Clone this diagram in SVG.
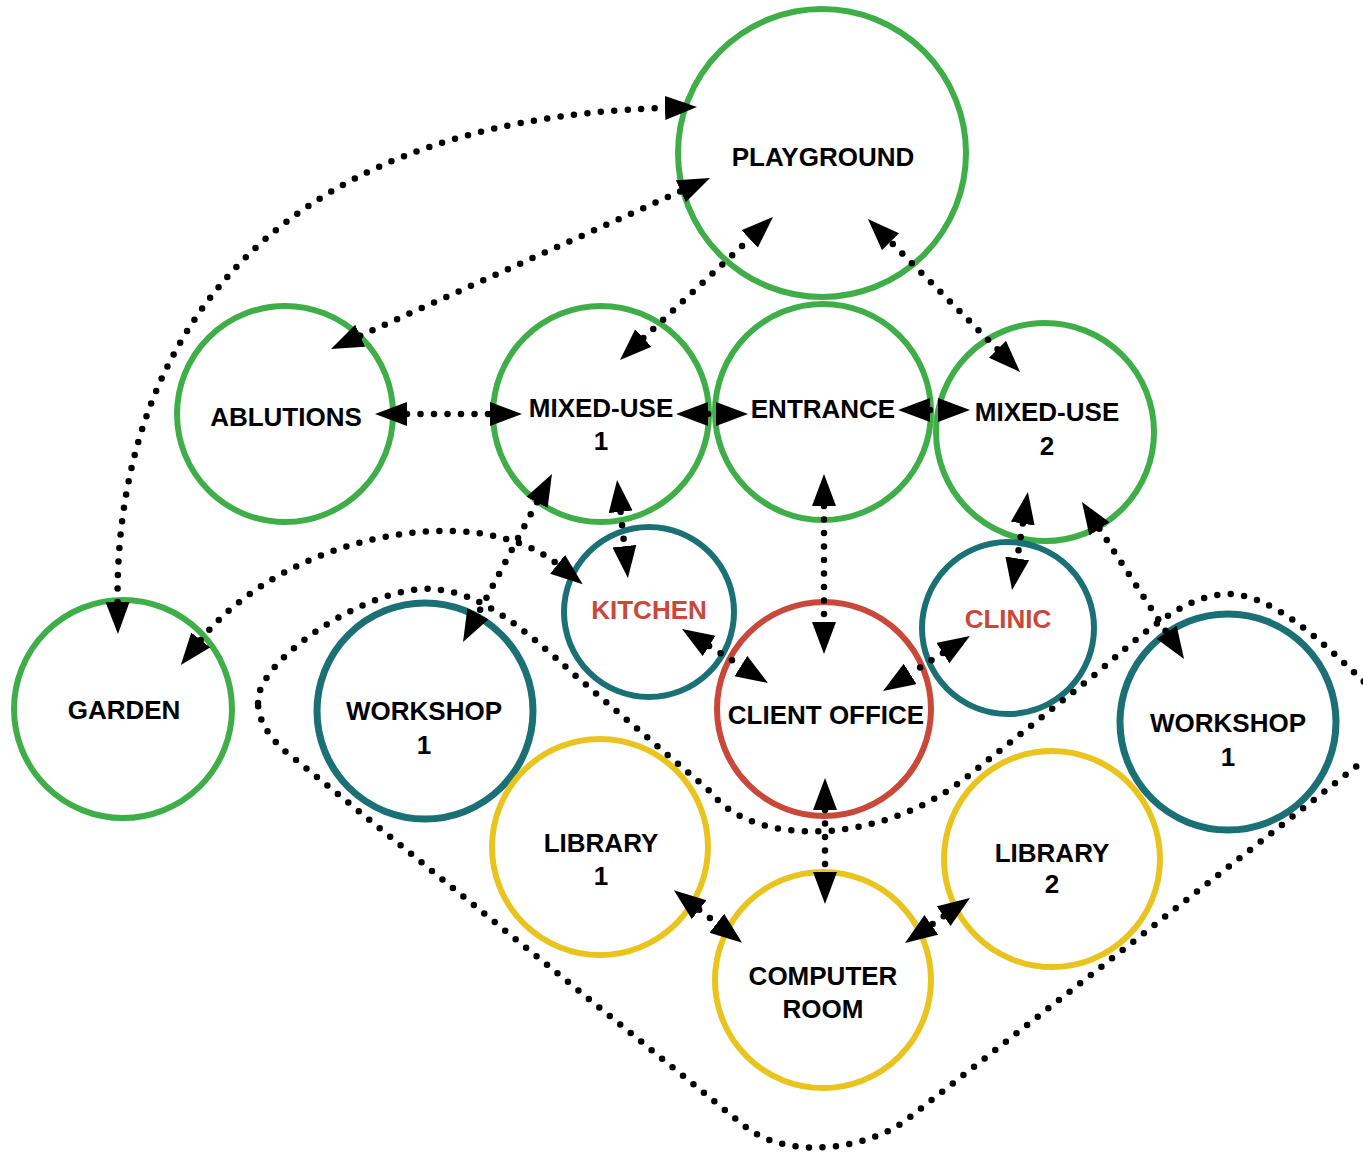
<svg xmlns="http://www.w3.org/2000/svg" width="1363" height="1155" viewBox="0 0 1363 1155">
<defs>
<marker id="ah" markerUnits="userSpaceOnUse" markerWidth="34" markerHeight="26" refX="0" refY="12" orient="auto-start-reverse" viewBox="0 0 34 26">
<path d="M0,0 L32,12 L0,24 Z" fill="#000"/>
</marker>
</defs>
<style>
.n{fill:none;stroke-width:6}
.g{stroke:#3fae49}
.t{stroke:#1b7075}
.r{stroke:#c9483a}
.y{stroke:#e9c41f}
.w{stroke-width:7}
text{font-family:"Liberation Sans",Arial,sans-serif;font-weight:bold;font-size:26px;fill:#000;text-anchor:middle}
.red{fill:#c9483a}
.c{fill:none;stroke:#000;stroke-width:6.5;stroke-dasharray:0 13.5;stroke-linecap:round}
.a{marker-start:url(#ah);marker-end:url(#ah)}
</style>
<rect width="1363" height="1155" fill="#fff"/>
<g id="playground"><circle class="n g" cx="822" cy="153" r="144"/><text x="823" y="166">PLAYGROUND</text></g>
<g id="ablutions"><circle class="n g" cx="285" cy="414" r="108"/><text x="286" y="426">ABLUTIONS</text></g>
<g id="mixed-use-1"><circle class="n g" cx="601" cy="414" r="108"/><text x="601" y="417">MIXED-USE</text><text x="601" y="450">1</text></g>
<g id="entrance"><circle class="n g" cx="823" cy="412" r="108"/><text x="823" y="418">ENTRANCE</text></g>
<g id="mixed-use-2"><circle class="n g" cx="1045" cy="432" r="109"/><text x="1047" y="421">MIXED-USE</text><text x="1047" y="455">2</text></g>
<g id="kitchen"><circle class="n t" cx="649" cy="612" r="85"/><text class="red" x="649" y="619">KITCHEN</text></g>
<g id="clinic"><circle class="n t" cx="1008" cy="628" r="86"/><text class="red" x="1008" y="628">CLINIC</text></g>
<g id="client-office"><circle class="n r" cx="824" cy="709" r="107"/><text x="826" y="724">CLIENT OFFICE</text></g>
<g id="garden"><circle class="n g" cx="123" cy="709" r="109"/><text x="124" y="719">GARDEN</text></g>
<g id="workshop-1-left"><circle class="n t w" cx="425" cy="711" r="108"/><text x="424" y="720">WORKSHOP</text><text x="424" y="754">1</text></g>
<g id="workshop-1-right"><circle class="n t w" cx="1228" cy="722" r="108"/><text x="1228" y="732">WORKSHOP</text><text x="1228" y="766">1</text></g>
<g id="library-1"><circle class="n y" cx="600" cy="847" r="108"/><text x="601" y="852">LIBRARY</text><text x="601" y="885">1</text></g>
<g id="library-2"><circle class="n y" cx="1052" cy="859" r="108"/><text x="1052" y="862">LIBRARY</text><text x="1052" y="893">2</text></g>
<g id="computer-room"><circle class="n y" cx="823" cy="980" r="108"/><text x="823" y="985">COMPUTER</text><text x="823" y="1018">ROOM</text></g>
<g id="connectors">
<path class="c" d="M258,703 C255,660 370,585 432,589 C480,592 520,625 577,677 L712,793 C750,845 880,850 973,772 L1092,677 C1140,637 1180,596 1227,594 C1270,593 1320,640 1357,675 C1400,715 1400,740 1362,762 L910,1117 C870,1150 790,1160 747,1128 L290,755 C270,740 258,720 258,703 Z"/>
<path class="c a" d="M117.6,602 C115,360 250,120 665,108"/>
<path class="c a" d="M360.2,335.8 L680.8,191.2"/>
<path class="c a" d="M643.4,338.1 L749.6,238.9"/>
<path class="c a" d="M997.5,349.3 L890.5,241.7"/>
<path class="c a" d="M407,414 L490,414"/>
<path class="c a" d="M708,414 L716,414"/>
<path class="c a" d="M930,410 L938,410"/>
<path class="c a" d="M620.6,511.8 L624.4,546.2"/>
<path class="c a" d="M824,506 L824,622"/>
<path class="c a" d="M1022.8,523.6 L1017.2,558.4"/>
<path class="c a" d="M1099.4,528.8 L1166.6,632.2"/>
<path class="c a" d="M537,502.3 L478,613.7"/>
<path class="c a" d="M200.7,640 C280,540 470,495 557.6,564.3"/>
<path class="c a" d="M709.1,646 L740.9,666"/>
<path class="c a" d="M942.9,653.1 L910.1,673.9"/>
<path class="c a" d="M825,810 L825,872"/>
<path class="c a" d="M699.2,909.7 L716.8,923.3"/>
<path class="c a" d="M943.7,916.2 L931.3,924.8"/>
</g>
</svg>
